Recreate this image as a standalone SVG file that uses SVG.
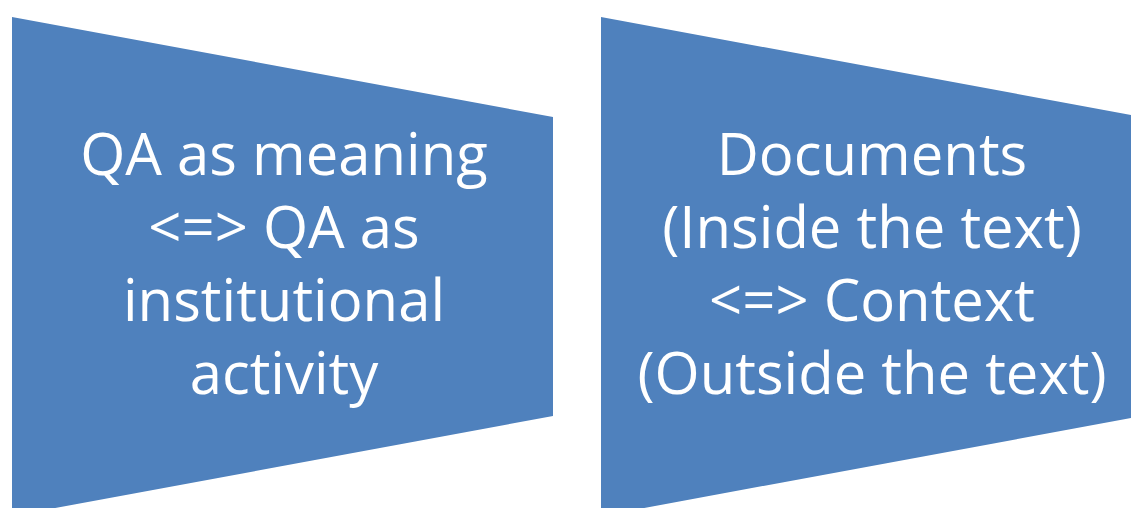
<svg xmlns="http://www.w3.org/2000/svg" width="1131" height="508" viewBox="0 0 1131 508">
<style>
.shape{fill:#4F81BD;}
.lbl{fill:#FFFFFF;font-family:"Open Sans","Liberation Sans",sans-serif;font-size:58px;text-anchor:middle;}
</style>
<rect width="1131" height="508" fill="#FFFFFF"/>
<g id="node1">
<polygon class="shape" points="12,17 553,117 553,416 12,516"/>
<text class="lbl" x="284" y="175">QA as meaning</text>
<text class="lbl" x="284" y="248">&lt;=&gt; QA as</text>
<text class="lbl" x="284" y="321">institutional</text>
<text class="lbl" x="284" y="394">activity</text>
</g>
<g id="node2">
<polygon class="shape" points="601,17 1142,117 1142,416 601,516"/>
<text class="lbl" x="872" y="175">Documents</text>
<text class="lbl" x="872" y="248">(Inside the text)</text>
<text class="lbl" x="872" y="321">&lt;=&gt; Context</text>
<text class="lbl" x="872" y="394">(Outside the text)</text>
</g>
<g id="connectors"></g>
</svg>
